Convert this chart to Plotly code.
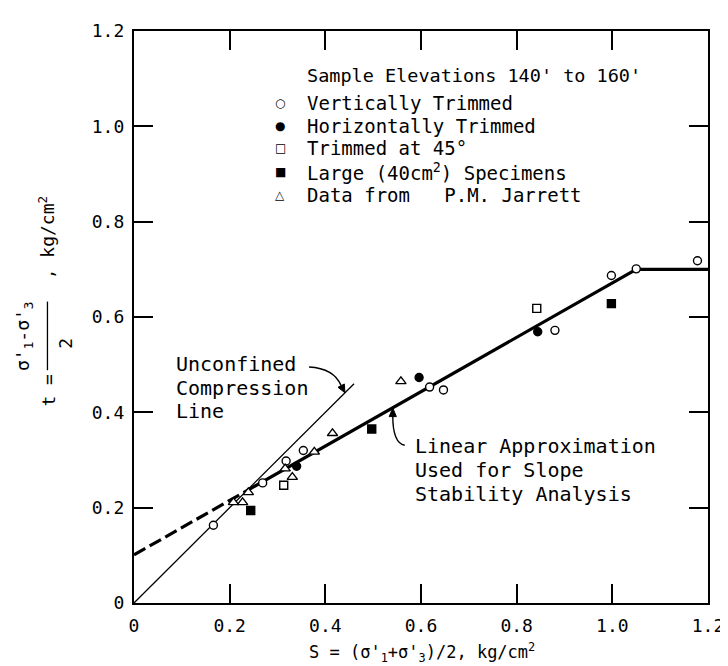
import plotly.graph_objects as go

# ---------------- data ----------------
vert_s = [0.166, 0.269, 0.318, 0.354, 0.618, 0.647, 0.880, 0.998, 1.050, 1.178]
vert_t = [0.163, 0.252, 0.298, 0.320, 0.453, 0.447, 0.572, 0.687, 0.701, 0.718]
horiz_s = [0.340, 0.596, 0.844]
horiz_t = [0.287, 0.473, 0.569]
t45_s = [0.313, 0.842]
t45_t = [0.247, 0.618]
large_s = [0.244, 0.497, 0.998]
large_t = [0.194, 0.365, 0.628]
jar_s = [0.208, 0.227, 0.239, 0.316, 0.331, 0.377, 0.415, 0.558]
jar_t = [0.211, 0.211, 0.232, 0.282, 0.264, 0.317, 0.356, 0.465]

# lines
unconf_s = [0.0, 0.46]
unconf_t = [0.0, 0.46]
dash_s = [0.0, 0.24]
dash_t = [0.101, 0.238]
approx_s = [0.24, 1.05, 1.20]
approx_t = [0.238, 0.700, 0.700]

tick_vals = [0, 0.2, 0.4, 0.6, 0.8, 1.0, 1.2]
tick_text = ["0", "0.2", "0.4", "0.6", "0.8", "1.0", "1.2"]

legend_title = "Sample Elevations 140' to 160'"
legend_names = ["Vertically Trimmed", "Horizontally Trimmed", "Trimmed at 45°",
                "Large (40cm<sup>2</sup>) Specimens", "Data from   P.M. Jarrett"]
legend_glyphs = ["○", "●", "□", "■", "△"]

FONT = "DejaVu Sans Mono"
W, H = 728, 666
L, R, T, B = 126, 25, 20, 71
PW, PH = W - L - R, H - T - B


def px(x):
    return (x - L) / PW


def py(y):
    return (H - B - y) / PH


fig = go.Figure()

# lines
fig.add_trace(go.Scatter(x=unconf_s, y=unconf_t, mode="lines",
                         line=dict(color="black", width=1.3), showlegend=False, hoverinfo="skip"))
fig.add_trace(go.Scatter(x=dash_s, y=dash_t, mode="lines",
                         line=dict(color="black", width=3.2, dash="13px,5px"), showlegend=False, hoverinfo="skip"))
fig.add_trace(go.Scatter(x=approx_s, y=approx_t, mode="lines",
                         line=dict(color="black", width=3.2), showlegend=False, hoverinfo="skip"))

mk_line = dict(color="black", width=1.4)
series = [
    (vert_s, vert_t, "circle", 8, "white"),
    (horiz_s, horiz_t, "circle", 8, "black"),
    (t45_s, t45_t, "square", 8, "white"),
    (large_s, large_t, "square", 8, "black"),
    (jar_s, jar_t, "triangle-up", 9, "white"),
]
for (xs, ys, sym, sz, fill), name in zip(series, legend_names):
    fig.add_trace(go.Scatter(x=xs, y=ys, mode="markers", name=name, showlegend=False,
                             marker=dict(symbol=sym, size=sz, color=fill, line=mk_line)))

axis_common = dict(
    range=[0, 1.2], tickvals=tick_vals, ticktext=tick_text,
    showline=True, linecolor="black", linewidth=2.2, mirror="ticks",
    ticks="inside", ticklen=19, tickwidth=1.5, tickcolor="black",
    showgrid=False, zeroline=False,
    tickfont=dict(family=FONT, size=18, color="black"),
)
fig.update_xaxes(**axis_common, ticklabelstandoff=5)
fig.update_yaxes(**axis_common, ticklabelstandoff=4)

ann = []
# y-axis title built from pieces (stacked fraction)
yt_font = dict(family=FONT, size=18, color="black")
ann.append(dict(x=px(40), y=py(381), xref="paper", yref="paper", text="t =",
                textangle=-90, showarrow=False, font=yt_font, xanchor="center", yanchor="middle"))
ann.append(dict(x=px(16), y=py(327), xref="paper", yref="paper",
                text="σ'<sub>1</sub>-σ'<sub>3</sub>", textangle=-90, showarrow=False,
                font=yt_font, xanchor="center", yanchor="middle"))
ann.append(dict(x=px(57), y=py(334), xref="paper", yref="paper", text="2",
                textangle=-90, showarrow=False, font=yt_font, xanchor="center", yanchor="middle"))
ann.append(dict(x=px(38), y=py(228), xref="paper", yref="paper", text=", kg/cm<sup>2</sup>",
                textangle=-90, showarrow=False, font=yt_font, xanchor="center", yanchor="middle"))
# x-axis title
ann.append(dict(x=px(416), y=py(645), xref="paper", yref="paper",
                text="S = (σ'<sub>1</sub>+σ'<sub>3</sub>)/2, kg/cm<sup>2</sup>",
                showarrow=False, font=dict(family=FONT, size=17, color="black"),
                xanchor="center", yanchor="middle"))
# legend (heading + rows)
ann.append(dict(x=px(298), y=py(65), xref="paper", yref="paper",
                text=legend_title, showarrow=False,
                font=dict(family=FONT, size=18.5, color="black"), xanchor="left", yanchor="middle"))
row_y = [92, 115, 138, 162, 185]
for g, name, ry in zip(legend_glyphs, legend_names, row_y):
    ann.append(dict(x=px(273), y=py(ry), xref="paper", yref="paper", text=g, showarrow=False,
                    font=dict(family="DejaVu Sans", size=12, color="black"),
                    xanchor="center", yanchor="middle"))
    ann.append(dict(x=px(298), y=py(ry), xref="paper", yref="paper", text=name, showarrow=False,
                    font=dict(family=FONT, size=19, color="black"),
                    xanchor="left", yanchor="middle"))
# callouts
note_font = dict(family=FONT, size=20, color="black")
for txt, yy in [("Unconfined", 355), ("Compression", 379), ("Line", 402)]:
    ann.append(dict(x=px(166), y=py(yy), xref="paper", yref="paper", text=txt, showarrow=False,
                    font=note_font, xanchor="left", yanchor="middle"))
for txt, yy in [("Linear Approximation", 437), ("Used for Slope", 461), ("Stability Analysis", 485)]:
    ann.append(dict(x=px(406), y=py(yy), xref="paper", yref="paper", text=txt, showarrow=False,
                    font=note_font, xanchor="left", yanchor="middle"))

shapes = [
    # fraction bar of the y title
    dict(type="line", xref="paper", yref="paper", x0=px(39), x1=px(39), y0=py(292), y1=py(361),
         line=dict(color="black", width=1.3)),
    # curved leader lines
    dict(type="path", xref="x", yref="y", path="M 0.366,0.495 Q 0.418,0.492 0.433,0.456",
         line=dict(color="black", width=1.4)),
    dict(type="path", xref="x", yref="y", path="M 0.566,0.331 Q 0.541,0.336 0.541,0.392",
         line=dict(color="black", width=1.4)),
    # arrowheads
    dict(type="path", xref="x", yref="y",
         path="M 0.441,0.441 L 0.4397,0.4595 L 0.4265,0.4525 Z",
         fillcolor="black", line=dict(color="black", width=1)),
    dict(type="path", xref="x", yref="y",
         path="M 0.541,0.409 L 0.5335,0.391 L 0.5485,0.391 Z",
         fillcolor="black", line=dict(color="black", width=1)),
]

fig.update_layout(
    width=W, height=H,
    margin=dict(l=L, r=R, t=T, b=B, pad=0),
    plot_bgcolor="white", paper_bgcolor="white",
    annotations=ann, shapes=shapes,
    showlegend=False,
)

fig.write_html("out.html")
